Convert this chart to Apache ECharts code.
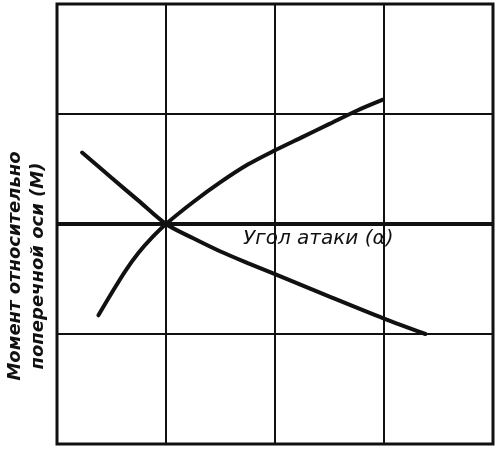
<!DOCTYPE html>
<html>
<head>
<meta charset="utf-8">
<script src="https://cdn.jsdelivr.net/npm/echarts@6/dist/echarts.min.js"></script>
<style>html,body{margin:0;padding:0;background:#fff;}#c{width:500px;height:450px;}</style>
</head>
<body>
<div id="c"></div>
<script>
// Data (x: grid units of angle, y: grid units of moment)
const risingCurve = [[0.38,-0.83],[0.5,-0.63],[0.625,-0.43],[0.75,-0.26],[0.875,-0.12],[1,0],[1.25,0.2],[1.5,0.38],[1.75,0.54],[2.0,0.67],[2.25,0.79],[2.5,0.91],[2.75,1.03],[2.99,1.13]];
const fallingCurve = [[0.23,0.65],[0.5,0.42],[0.75,0.21],[1,0],[1.25,-0.13],[1.5,-0.25],[1.75,-0.355],[2.0,-0.455],[2.5,-0.66],[3.0,-0.86],[3.38,-1.0]];
const yAxisTitle = 'Момент относительно\nпоперечной оси (M)';
const xAxisTitle = 'Угол атаки (α)';

const chart = echarts.init(document.getElementById('c'));
chart.setOption({
  animation: false,
  grid: {left: 57, right: 7, top: 4, bottom: 6, show: true, borderColor: '#111', borderWidth: 3, backgroundColor: '#fff', outerBoundsMode: 'none', containLabel: false},
  xAxis: {type: 'value', min: 0, max: 4, interval: 1,
    axisLine: {show: false}, axisTick: {show: false}, axisLabel: {show: false},
    splitLine: {show: true, lineStyle: {color: '#111', width: 2}}},
  yAxis: {type: 'value', min: -2, max: 2, interval: 1,
    axisLine: {show: false}, axisTick: {show: false}, axisLabel: {show: false},
    splitLine: {show: true, lineStyle: {color: '#111', width: 2}}},
  series: [
    {type: 'line', data: risingCurve, smooth: 0.3, symbol: 'none',
     lineStyle: {color: '#111', width: 4, cap: 'round'},
     markLine: {silent: true, symbol: 'none', label: {show: false},
       lineStyle: {color: '#111', width: 4, type: 'solid'}, data: [{yAxis: 0}]}},
    {type: 'line', data: fallingCurve, smooth: 0.3, symbol: 'none',
     lineStyle: {color: '#111', width: 4, cap: 'round'}}
  ],
  graphic: [
    {type: 'text', x: 243, y: 239,
     style: {text: xAxisTitle, font: 'italic 20px "DejaVu Sans"', fill: '#111', verticalAlign: 'middle', align: 'left'}},
    {type: 'text', x: 27, y: 266, rotation: Math.PI / 2,
     style: {text: yAxisTitle, font: 'italic bold 18px "DejaVu Sans"', fill: '#111', align: 'center', verticalAlign: 'middle', lineHeight: 23}}
  ]
});
</script>
</body>
</html>
